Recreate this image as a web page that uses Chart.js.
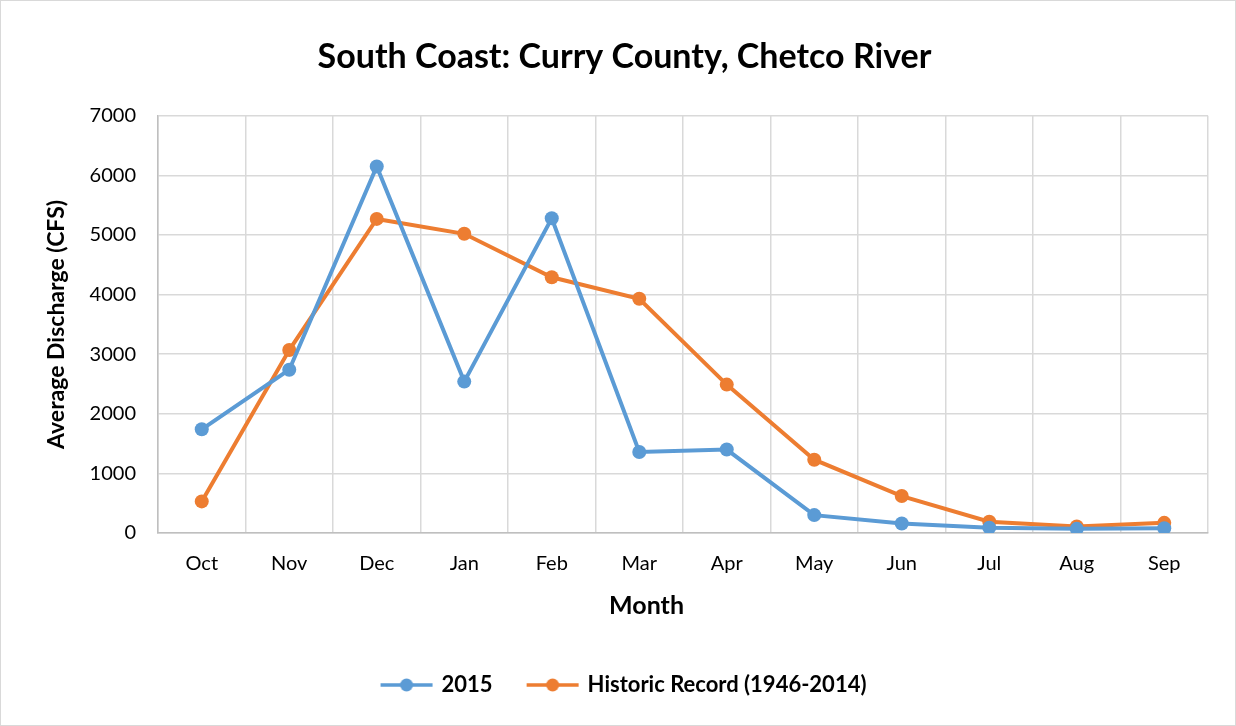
<!DOCTYPE html>
<html>
<head>
<meta charset="utf-8">
<script src="https://cdn.jsdelivr.net/npm/chart.js@4"></script>
<style>
  html, body { margin: 0; padding: 0; background: #fff; }
  #wrap { position: relative; width: 1236px; height: 726px; box-sizing: border-box; border: 1px solid #d9d9d9; }
</style>
</head>
<body>
<div id="wrap"><canvas id="graphCanvas" width="1234" height="724"></canvas></div>
<script>
const months = ["Oct", "Nov", "Dec", "Jan", "Feb", "Mar", "Apr", "May", "Jun", "Jul", "Aug", "Sep"];
const flow2015 = [1740, 2740, 6150, 2540, 5280, 1360, 1400, 300, 160, 90, 70, 80];
const flowHistoric = [530, 3070, 5270, 5020, 4290, 3930, 2490, 1230, 620, 190, 110, 170];
const yTicks = [0, 1000, 2000, 3000, 4000, 5000, 6000, 7000];

const blue = "#5b9bd5";
const orange = "#ed7d31";
const fontFam = "Lato, 'Liberation Sans', sans-serif";

// the x title sits left of the plot centre in the original, pad it on the right
const monthTitle = "Month" + "\u00a0".repeat(12);

// legend marker: short line with a dot in the middle
function legendMarker(color){
    const c = document.createElement("canvas");
    c.width = 54; c.height = 14;
    const g = c.getContext("2d");
    g.strokeStyle = color;
    g.lineWidth = 3.5;
    g.beginPath(); g.moveTo(1, 7); g.lineTo(53, 7); g.stroke();
    g.fillStyle = color;
    g.beginPath(); g.arc(27, 7, 6.5, 0, Math.PI * 2); g.fill();
    return c;
}

const chart_data = {
    labels: months,
    datasets: [
        { label: "2015", data: flow2015, borderColor: blue, backgroundColor: blue, pointBackgroundColor: blue },
        { label: "Historic Record (1946-2014)", data: flowHistoric, borderColor: orange, backgroundColor: orange, pointBackgroundColor: orange }
    ]
};
chart_data.datasets.forEach(d => {
    d.borderWidth = 4;
    d.pointRadius = 7;
    d.pointHoverRadius = 7;
    d.pointBorderWidth = 0;
    d.tension = 0;
});

const config = {
    type: "line",
    data: chart_data,
    options: {
        responsive: false,
        animation: false,
        layout: { padding: { left: 40, right: 27, top: 0, bottom: 19 } },
        plugins: {
            tooltip: { enabled: false },
            title: {
                display: true,
                text: "South Coast: Curry County, Chetco River",
                color: "#000",
                font: { family: fontFam, size: 34, weight: "bold" },
                padding: { top: 36, bottom: 38 }
            },
            legend: {
                position: "bottom",
                labels: {
                    usePointStyle: true,
                    pointStyleWidth: 48,
                    color: "#000",
                    font: { family: fontFam, size: 22, weight: "bold" },
                    padding: 36,
                    generateLabels: (ch) => ch.data.datasets.map((d, i) => ({
                        text: d.label,
                        fillStyle: d.borderColor,
                        strokeStyle: d.borderColor,
                        lineWidth: 0,
                        pointStyle: legendMarker(d.borderColor),
                        datasetIndex: i,
                        fontColor: "#000"
                    }))
                }
            }
        },
        scales: {
            x: {
                offset: true,
                grid: { color: "#d9d9d9", lineWidth: 1.5, offset: true, drawTicks: false },
                border: { color: "#bfbfbf", width: 1.5 },
                ticks: { color: "#000", font: { family: fontFam, size: 20 }, padding: 19 },
                title: { display: true, text: monthTitle, color: "#000", font: { family: fontFam, size: 25, weight: "bold" }, padding: { top: 4, bottom: 17 } },
                afterFit: s => { s.height = 105; }
            },
            y: {
                min: 0, max: 7000,
                afterBuildTicks: s => { s.ticks = yTicks.map(v => ({ value: v })); },
                grid: { color: "#d9d9d9", lineWidth: 1.5, drawTicks: false },
                border: { color: "#bfbfbf", width: 1.5 },
                ticks: { color: "#000", font: { family: fontFam, size: 20 }, padding: 22, callback: v => String(v) },
                title: { display: true, text: "Average Discharge (CFS)", color: "#000", font: { family: fontFam, size: 23, weight: "bold" }, padding: { top: 2, bottom: 10 } },
                afterFit: s => { s.width = 117; }
            }
        }
    }
};

const canvas = document.getElementById("graphCanvas");
const ctx = canvas.getContext("2d");
const chart = new Chart(ctx, config);
</script>
</body>
</html>
